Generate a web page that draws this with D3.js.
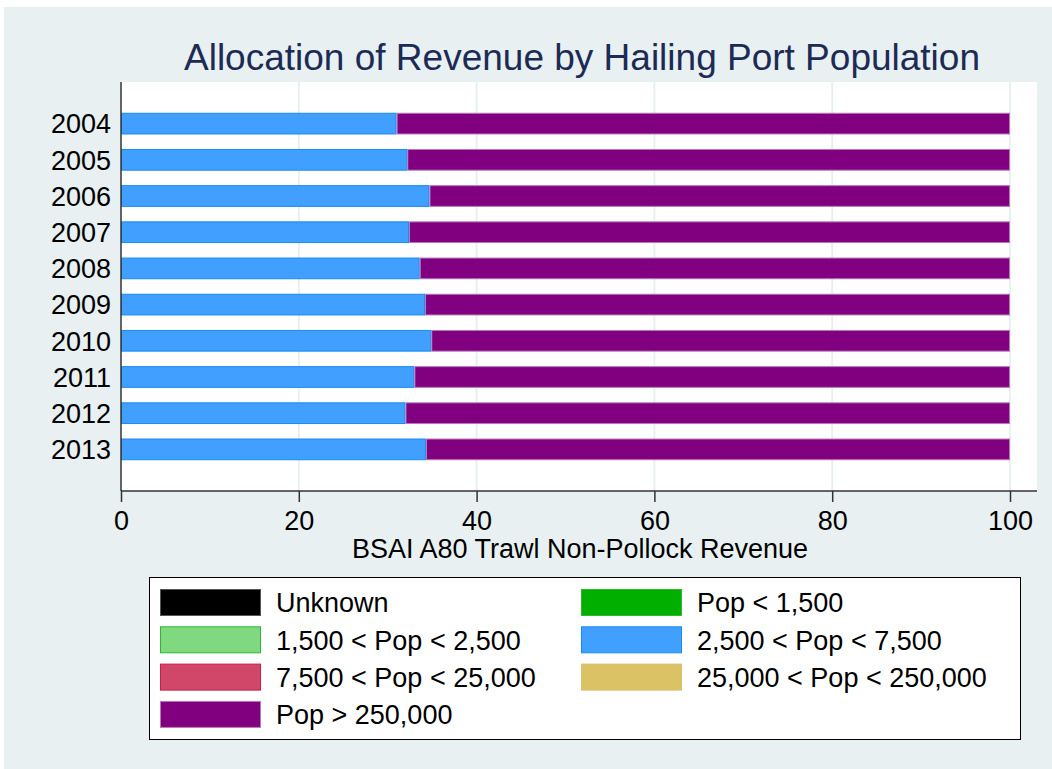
<!DOCTYPE html>
<html>
<head>
<meta charset="utf-8">
<script src="https://cdn.jsdelivr.net/npm/d3@7/dist/d3.min.js"></script>
<style>
  body { margin: 0; background: #fff; }
  text { font-family: "Liberation Sans", Arial, sans-serif; }
</style>
</head>
<body>
<script>
const WIDTH = 1052;
const HEIGHT = 769;

// data (percent of revenue)
const years = ["2004", "2005", "2006", "2007", "2008", "2009", "2010", "2011", "2012", "2013"];
const groups = ["Unknown", "Pop < 1,500", "1,500 < Pop < 2,500", "2,500 < Pop < 7,500",
                "7,500 < Pop < 25,000", "25,000 < Pop < 250,000", "Pop > 250,000"];
const unknown   = [0, 0, 0, 0, 0, 0, 0, 0, 0, 0];
const popLt1500 = [0, 0, 0, 0, 0, 0, 0, 0, 0, 0];
const pop1500   = [0, 0, 0, 0, 0, 0, 0, 0, 0, 0];
const pop2500   = [31.0, 32.2, 34.7, 32.4, 33.6, 34.2, 34.9, 33.0, 32.0, 34.3];
const pop7500   = [0, 0, 0, 0, 0, 0, 0, 0, 0, 0];
const pop25000  = [0, 0, 0, 0, 0, 0, 0, 0, 0, 0];
const popGt250k = [69.0, 67.8, 65.3, 67.6, 66.4, 65.8, 65.1, 67.0, 68.0, 65.7];
const xTicks = [0, 20, 40, 60, 80, 100];

const fills   = ["#000000", "#00AF00", "#80D980", "#409FFF", "#D0476A", "#DAC265", "#800080"];
const strokes = ["#555555", "#2DB82D", "#2DB82D", "#1A8AF5", "#C81E4A", "#D8C070", "#B57AB5"];

const series = [unknown, popLt1500, pop1500, pop2500, pop7500, pop25000, popGt250k];

const FONT = "27px";

const svg = d3.select("body").append("svg")
  .attr("width", WIDTH).attr("height", HEIGHT);

// background
svg.append("rect").attr("x", 4).attr("y", 7).attr("width", WIDTH - 4).attr("height", HEIGHT - 7)
  .attr("fill", "#E8F0F2");

const plot = {left: 121, right: 1037, top: 82, bottom: 491};

svg.append("rect")
  .attr("x", plot.left).attr("y", plot.top)
  .attr("width", plot.right - plot.left).attr("height", plot.bottom - plot.top)
  .attr("fill", "#fff");

const x = d3.scaleLinear().domain([0, 100]).range([121, 1010]);
const y = d3.scaleBand().domain(years).range([plot.top, plot.bottom])
  .paddingInner(0.4).paddingOuter(0.85);

// grid
svg.append("g").selectAll("line").data(xTicks.slice(1)).enter().append("line")
  .attr("x1", d => x(d)).attr("x2", d => x(d))
  .attr("y1", plot.top).attr("y2", plot.bottom)
  .attr("stroke", "#E8F0F2").attr("stroke-width", 2);

// stacked bars
const table = years.map((yr, i) => {
  const row = {year: yr};
  groups.forEach((g, j) => { row[g] = series[j][i]; });
  return row;
});
const stacked = d3.stack().keys(groups)(table);

svg.append("g").selectAll("g").data(stacked).enter().append("g")
  .attr("fill", (d, i) => fills[i])
  .attr("stroke", (d, i) => strokes[i])
  .selectAll("rect").data(d => d.filter(s => s[1] - s[0] > 0)).enter().append("rect")
  .attr("x", d => x(d[0]) + 0.5)
  .attr("y", d => y(d.data.year) + 0.5)
  .attr("width", d => x(d[1]) - x(d[0]) - 1)
  .attr("height", y.bandwidth() - 1)
  .attr("stroke-width", 1);

// axes
const xAxis = svg.append("g").attr("transform", "translate(0," + plot.bottom + ")")
  .call(d3.axisBottom(x).tickValues(xTicks).tickSize(11).tickPadding(9).tickSizeOuter(0));
xAxis.select(".domain").remove();
xAxis.append("line").attr("x1", plot.left).attr("x2", plot.right)
  .attr("stroke", "#333").attr("stroke-width", 1.5);
xAxis.selectAll(".tick line").attr("stroke", "#333").attr("stroke-width", 1.5);
xAxis.selectAll(".tick text").attr("fill", "#000").style("font-size", FONT)
  .style("font-family", "'Liberation Sans', Arial, sans-serif");

svg.append("line").attr("x1", plot.left).attr("x2", plot.left)
  .attr("y1", plot.top).attr("y2", plot.bottom)
  .attr("stroke", "#333").attr("stroke-width", 1.5);

svg.append("g").selectAll("text").data(years).enter().append("text")
  .attr("x", 111).attr("y", d => y(d) + y.bandwidth() / 2)
  .attr("dy", "0.36em").attr("text-anchor", "end")
  .style("font-size", FONT).attr("fill", "#000")
  .text(d => d);

svg.append("text").attr("x", 580).attr("y", 558).attr("text-anchor", "middle")
  .style("font-size", FONT).attr("fill", "#000")
  .text("BSAI A80 Trawl Non-Pollock Revenue");

// title
svg.append("text").attr("x", 582).attr("y", 70).attr("text-anchor", "middle")
  .style("font-size", "37px").attr("fill", "#1C2B55")
  .text("Allocation of Revenue by Hailing Port Population");

// legend
svg.append("rect").attr("x", 149.5).attr("y", 577.5).attr("width", 871).attr("height", 162)
  .attr("fill", "#fff").attr("stroke", "#000").attr("stroke-width", 1);

const legend = svg.append("g").selectAll("g").data(groups).enter().append("g")
  .attr("transform", (d, i) => "translate(" + (i % 2 === 0 ? 160 : 581) + "," + (589 + Math.floor(i / 2) * 37.3) + ")");
legend.append("rect")
  .attr("x", 0.5).attr("y", 0.5).attr("width", 100).attr("height", 26)
  .attr("fill", (d, i) => fills[i]).attr("stroke", (d, i) => strokes[i]);
legend.append("text")
  .attr("x", 116).attr("y", 13.5).attr("dy", "0.36em")
  .style("font-size", FONT).attr("fill", "#000")
  .text(d => d);
</script>
</body>
</html>
